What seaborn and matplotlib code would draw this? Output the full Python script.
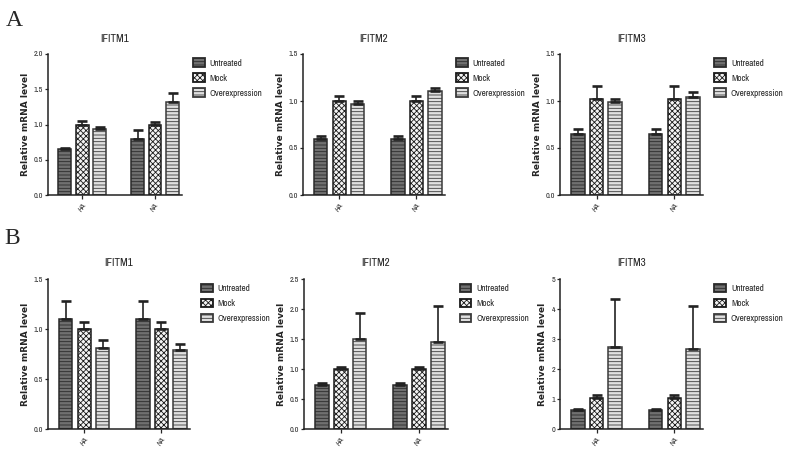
import numpy as np
import pandas as pd
import matplotlib
matplotlib.use("Agg")
import matplotlib.pyplot as plt
import seaborn as sns
from matplotlib.patches import Patch
from matplotlib import font_manager

# ─────────────────────────────────────────────
# DATA
# ─────────────────────────────────────────────
genes = ["IFITM1", "IFITM2", "IFITM3"]
targets = ["HA", "NA"]
conditions = ["Untreated", "Mock", "Overexpression"]

# panel A  (per gene: HA-untreated, HA-mock, HA-over, NA-untreated, NA-mock, NA-over)
a_means = [
    [0.65, 1.00, 0.94, 0.79, 1.00, 1.32],
    [0.60, 1.00, 0.97, 0.60, 1.00, 1.11],
    [0.65, 1.02, 0.99, 0.65, 1.02, 1.04],
]
a_errs = [
    [0.02, 0.05, 0.03, 0.13, 0.03, 0.13],
    [0.03, 0.05, 0.03, 0.03, 0.05, 0.03],
    [0.05, 0.14, 0.03, 0.05, 0.14, 0.06],
]
a_ymax = [2.0, 1.5, 1.5]
a_ystep = [0.5, 0.5, 0.5]

# panel B
b_means = [
    [1.10, 1.00, 0.81, 1.10, 1.00, 0.79],
    [0.73, 1.00, 1.50, 0.73, 1.00, 1.45],
    [0.63, 1.02, 2.73, 0.63, 1.02, 2.68],
]
b_errs = [
    [0.18, 0.07, 0.08, 0.18, 0.07, 0.06],
    [0.03, 0.03, 0.44, 0.03, 0.03, 0.60],
    [0.05, 0.13, 1.60, 0.05, 0.13, 1.43],
]
b_ymax = [1.5, 2.5, 5.0]
b_ystep = [0.5, 0.5, 1.0]

# ─────────────────────────────────────────────
# STYLE
# ─────────────────────────────────────────────
sns.set_style("ticks")

# look for a narrow font (legend / ticks in the original are condensed)
names = sorted({f.name for f in font_manager.fontManager.ttflist})
narrow = [n for n in names if "Narrow" in n or "Condensed" in n]
NARROW = narrow[0] if narrow else None
plt.rcParams["font.family"] = ([NARROW] if NARROW else []) + ["Liberation Sans", "DejaVu Sans"]
plt.rcParams["hatch.linewidth"] = 0.6
LEG_FS = 6.6 if NARROW else 5.6

styles = {
    "Untreated": dict(face="#707070", hatch="-----", edge="#2a2a2a"),
    "Mock": dict(face="#f4f4f4", hatch="xxxxxx", edge="#1a1a1a"),
    "Overexpression": dict(face="#e0e0e0", hatch="-----", edge="#3a3a3a"),
}

fig = plt.figure(figsize=(7.86, 4.58), dpi=100)
W, H = 786, 458


def px_axes(x0, y0, x1, y1):
    return fig.add_axes([x0 / W, 1 - y1 / H, (x1 - x0) / W, (y1 - y0) / H])


def draw_panel(ax, means, errs, ymax, ystep, title):
    df = pd.DataFrame({
        "target": np.repeat(targets, len(conditions)),
        "condition": conditions * len(targets),
        "value": means,
        "err": errs,
    })
    sns.barplot(data=df, x="target", y="value", hue="condition",
                hue_order=conditions, order=targets, width=0.72, gap=0.28,
                errorbar=None, legend=False, ax=ax)
    # style bars + upward-only error bars
    for ci, cond in enumerate(conditions):
        st = styles[cond]
        cont = ax.containers[ci]
        sub = df[df["condition"] == cond].set_index("target").loc[targets]
        xs = []
        for bar in cont:
            bar.set_facecolor(st["face"])
            bar.set_hatch(st["hatch"])
            bar.set_edgecolor(st["edge"])
            bar.set_linewidth(1.1)
            xs.append(bar.get_x() + bar.get_width() / 2)
        vals = sub["value"].values
        e = sub["err"].values
        ax.errorbar(xs, vals, yerr=[np.zeros_like(e), e], fmt="none",
                    ecolor="#222222", elinewidth=1.2, capsize=3.4, capthick=1.9,
                    zorder=1)
    ax.set_ylim(0, ymax)
    ax.set_xlim(-0.47, 1.37)
    ax.set_yticks(np.arange(0, ymax + 1e-9, ystep))
    fmt = "{:.0f}" if ystep >= 1 else "{:.1f}"
    ax.set_yticklabels([fmt.format(v) for v in ax.get_yticks()])
    ax.tick_params(axis="y", labelsize=5.8, length=2.5, width=0.9, pad=1)
    ax.tick_params(axis="x", labelsize=5.5, length=3, width=0.9, pad=2)
    for lab in ax.get_xticklabels():
        lab.set_rotation(55)
        lab.set_ha("right")
        lab.set_rotation_mode("anchor")
        lab.set_style("italic")
    ax.set_xlabel("")
    ax.set_ylabel("Relative mRNA level", fontsize=6.5, fontweight="bold",
                  family=["DejaVu Sans"], labelpad=3)
    ax.set_title(title, fontsize=8, fontweight="bold", pad=9)
    sns.despine(ax=ax)
    for s in ("left", "bottom"):
        ax.spines[s].set_linewidth(1.1)
        ax.spines[s].set_color("#222222")
    # legend
    handles = [Patch(facecolor=styles[c]["face"], hatch=styles[c]["hatch"],
                     edgecolor=styles[c]["edge"], linewidth=1.3) for c in conditions]
    ax.legend(handles, conditions, loc="upper left", bbox_to_anchor=(1.08, 0.97),
              frameon=False, fontsize=LEG_FS, handlelength=1.3, handleheight=1.1,
              handletextpad=0.5, labelspacing=0.6, borderaxespad=0, borderpad=0)


# axes boxes in pixels (left, top, right, bottom)
a_boxes = [(48, 54, 182, 195), (303, 54, 445, 195), (560, 54, 703, 195)]
b_boxes = [(48, 279, 190, 429), (304, 279, 448, 429), (560, 279, 703, 429)]

for i, g in enumerate(genes):
    ax = px_axes(*a_boxes[i])
    draw_panel(ax, a_means[i], a_errs[i], a_ymax[i], a_ystep[i], g)
for i, g in enumerate(genes):
    ax = px_axes(*b_boxes[i])
    draw_panel(ax, b_means[i], b_errs[i], b_ymax[i], b_ystep[i], g)

fig.text(6 / W, 1 - 20 / H, "A", fontsize=17, family=["Liberation Serif", "DejaVu Serif"], va="center")
fig.text(4 / W, 1 - 238 / H, "B", fontsize=17, family=["Liberation Serif", "DejaVu Serif"], va="center")

fig.savefig("out.png", dpi=100)
